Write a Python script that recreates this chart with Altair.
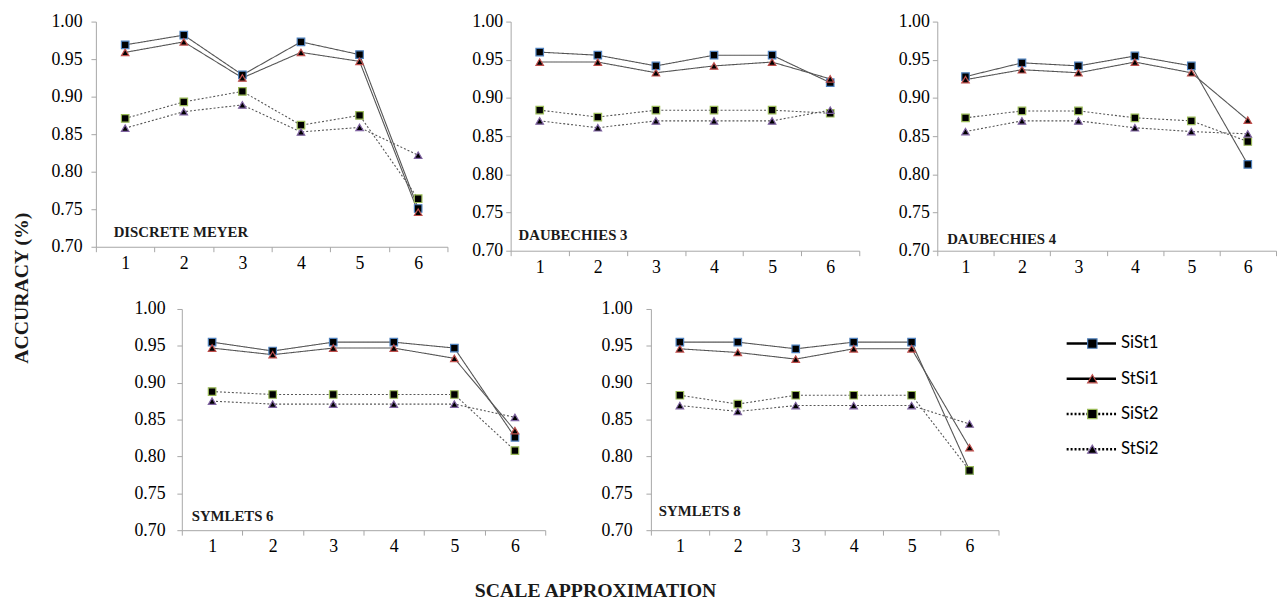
import altair as alt
import pandas as pd

SCALES = [1, 2, 3, 4, 5, 6]
SERIES = ["SiSt1", "StSi1", "SiSt2", "StSi2"]
Y_TICKS = [0.70, 0.75, 0.80, 0.85, 0.90, 0.95, 1.00]

# Discrete Meyer
dmey_sist1 = [0.969, 0.982, 0.929, 0.973, 0.956, 0.751]
dmey_stsi1 = [0.959, 0.973, 0.925, 0.959, 0.947, 0.746]
dmey_sist2 = [0.871, 0.893, 0.907, 0.862, 0.875, 0.764]
dmey_stsi2 = [0.858, 0.880, 0.889, 0.853, 0.859, 0.822]
# Daubechies 3
db3_sist1 = [0.960, 0.956, 0.942, 0.956, 0.956, 0.920]
db3_stsi1 = [0.947, 0.947, 0.933, 0.942, 0.947, 0.925]
db3_sist2 = [0.884, 0.875, 0.884, 0.884, 0.884, 0.880]
db3_stsi2 = [0.870, 0.861, 0.870, 0.870, 0.870, 0.884]
# Daubechies 4
db4_sist1 = [0.928, 0.946, 0.942, 0.955, 0.942, 0.813]
db4_stsi1 = [0.924, 0.937, 0.933, 0.947, 0.933, 0.871]
db4_sist2 = [0.874, 0.883, 0.883, 0.874, 0.870, 0.843]
db4_stsi2 = [0.856, 0.870, 0.870, 0.861, 0.856, 0.853]
# Symlets 6
sym6_sist1 = [0.955, 0.943, 0.955, 0.955, 0.947, 0.826]
sym6_stsi1 = [0.947, 0.938, 0.947, 0.947, 0.933, 0.835]
sym6_sist2 = [0.888, 0.884, 0.884, 0.884, 0.884, 0.808]
sym6_stsi2 = [0.875, 0.871, 0.871, 0.871, 0.871, 0.853]
# Symlets 8
sym8_sist1 = [0.955, 0.955, 0.946, 0.955, 0.955, 0.781]
sym8_stsi1 = [0.946, 0.941, 0.932, 0.946, 0.946, 0.812]
sym8_sist2 = [0.883, 0.871, 0.883, 0.883, 0.883, 0.781]
sym8_stsi2 = [0.869, 0.861, 0.869, 0.869, 0.869, 0.844]

SERIF = "Liberation Serif"
SANS = "Lato"
OUTLINES = ["#4f81bd", "#c0504d", "#9bbb59", "#8064a2"]
SHAPES = ["square", "triangle-up", "square", "triangle-up"]
DASHES = [[1, 0], [1, 0], [2, 2], [2, 2]]
AXIS_GRAY = "#a6a6a6"

dash_enc = alt.StrokeDash("series:N", scale=alt.Scale(domain=SERIES, range=DASHES), legend=None)
shape_enc = alt.Shape("series:N", scale=alt.Scale(domain=SERIES, range=SHAPES), legend=None)
stroke_enc = alt.Stroke("series:N", scale=alt.Scale(domain=SERIES, range=OUTLINES), legend=None)


def make_df(vals):
    rows = []
    for name, series in zip(SERIES, vals):
        for s, v in zip(SCALES, series):
            rows.append({"scale": s, "series": name, "value": v})
    return pd.DataFrame(rows)


def panel(title, vals, w, h, y_extent, y_pad, x_extent, lab_x, lab_y):
    df = make_df(vals)
    x = alt.X(
        "scale:O",
        bandPosition=0.5,
        scale=alt.Scale(type="band", paddingInner=0, paddingOuter=0),
        axis=alt.Axis(title=None, labelAngle=0, tickBand="extent", labelPadding=3,
                      tickSize=5, minExtent=x_extent, maxExtent=x_extent),
    )
    y = alt.Y(
        "value:Q",
        scale=alt.Scale(domain=[0.70, 1.00], nice=False, zero=False),
        axis=alt.Axis(title=None, values=Y_TICKS, format=".2f", tickSize=5,
                      labelPadding=y_pad, minExtent=y_extent, maxExtent=y_extent),
    )
    base = alt.Chart(df)
    lines = base.mark_line(color="#555555", strokeWidth=1.1).encode(
        x=x, y=y, strokeDash=dash_enc, detail="series:N")
    pts = base.mark_point(filled=True, fill="black", strokeWidth=1.2, size=58, opacity=1).encode(
        x=x, y=y, shape=shape_enc, stroke=stroke_enc)
    lab = alt.Chart(pd.DataFrame({"t": [title]})).mark_text(
        align="left", baseline="middle", font=SERIF, fontWeight="bold", fontSize=15, color="#1a1a1a"
    ).encode(text="t:N", x=alt.value(lab_x), y=alt.value(lab_y))
    return alt.layer(lines, pts, lab).properties(width=w, height=h)


def spacer(w, h):
    return alt.Chart(pd.DataFrame({"t": [""]})).mark_text().encode(
        text="t:N", x=alt.value(0), y=alt.value(0)).properties(width=w, height=h)


p1 = panel("DISCRETE MEYER", [dmey_sist1, dmey_stsi1, dmey_sist2, dmey_stsi2],
           356, 228, 49, 9, 32, 18, 213)
p2 = panel("DAUBECHIES 3", [db3_sist1, db3_stsi1, db3_sist2, db3_stsi2],
           353, 232, 62, 3, 33, 8, 216)
p3 = panel("DAUBECHIES 4", [db4_sist1, db4_stsi1, db4_sist2, db4_stsi2],
           343, 232, 77, 3, 33, 10, 220)
p4 = panel("SYMLETS 6", [sym6_sist1, sym6_stsi1, sym6_sist2, sym6_stsi2],
           368, 224, 136, 12, 28, 10, 210)
p5 = panel("SYMLETS 8", [sym8_sist1, sym8_stsi1, sym8_sist2, sym8_stsi2],
           352, 224, 105, 14, 28, 8, 205)

# legend panel
leg_df = pd.DataFrame({"series": SERIES})
leg_y = alt.Y("series:N", sort=SERIES, axis=None,
              scale=alt.Scale(type="point", domain=SERIES, range=[35, 142], padding=0))
leg_rules = alt.Chart(leg_df).mark_rule(color="black", strokeWidth=2.5).encode(
    x=alt.value(67), x2=alt.value(117), y=leg_y, strokeDash=dash_enc)
leg_pts = alt.Chart(leg_df).mark_point(filled=True, fill="black", strokeWidth=1.2, size=90, opacity=1).encode(
    x=alt.value(93), y=leg_y, shape=shape_enc, stroke=stroke_enc)
leg_txt = alt.Chart(leg_df).mark_text(align="left", baseline="middle", font=SANS, fontSize=17, color="black").encode(
    x=alt.value(122), y=leg_y, text="series:N")
legend = alt.layer(leg_rules, leg_pts, leg_txt).properties(width=175, height=224)

top = alt.hconcat(spacer(1, 10), p1, p2, p3, spacing=0)
bottom = alt.hconcat(spacer(1, 10), p4, p5, legend, spacing=0)

xtitle = alt.Chart(pd.DataFrame({"t": ["SCALE APPROXIMATION"]})).mark_text(
    align="center", baseline="alphabetic", font=SERIF, fontWeight="bold", fontSize=20, color="#1a1a1a"
).encode(text="t:N", x=alt.value(558), y=alt.value(35)).properties(width=700, height=35)

main = alt.vconcat(alt.vconcat(top, bottom, spacing=15), xtitle, spacing=3)

ytitle = alt.Chart(pd.DataFrame({"t": ["ACCURACY (%)"]})).mark_text(
    align="center", baseline="middle", font=SERIF, fontWeight="bold", fontSize=20, angle=270, color="#1a1a1a"
).encode(text="t:N", x=alt.value(13), y=alt.value(270)).properties(width=26, height=300)

chart = alt.hconcat(ytitle, main, spacing=8).properties(padding=0).configure_view(
    stroke="transparent"
).configure_axis(
    labelFont=SERIF, labelFontSize=18, labelColor="black", domainColor=AXIS_GRAY,
    tickColor=AXIS_GRAY, grid=False
)

chart.save("out.html", embed_options={"renderer": "svg", "actions": False})
